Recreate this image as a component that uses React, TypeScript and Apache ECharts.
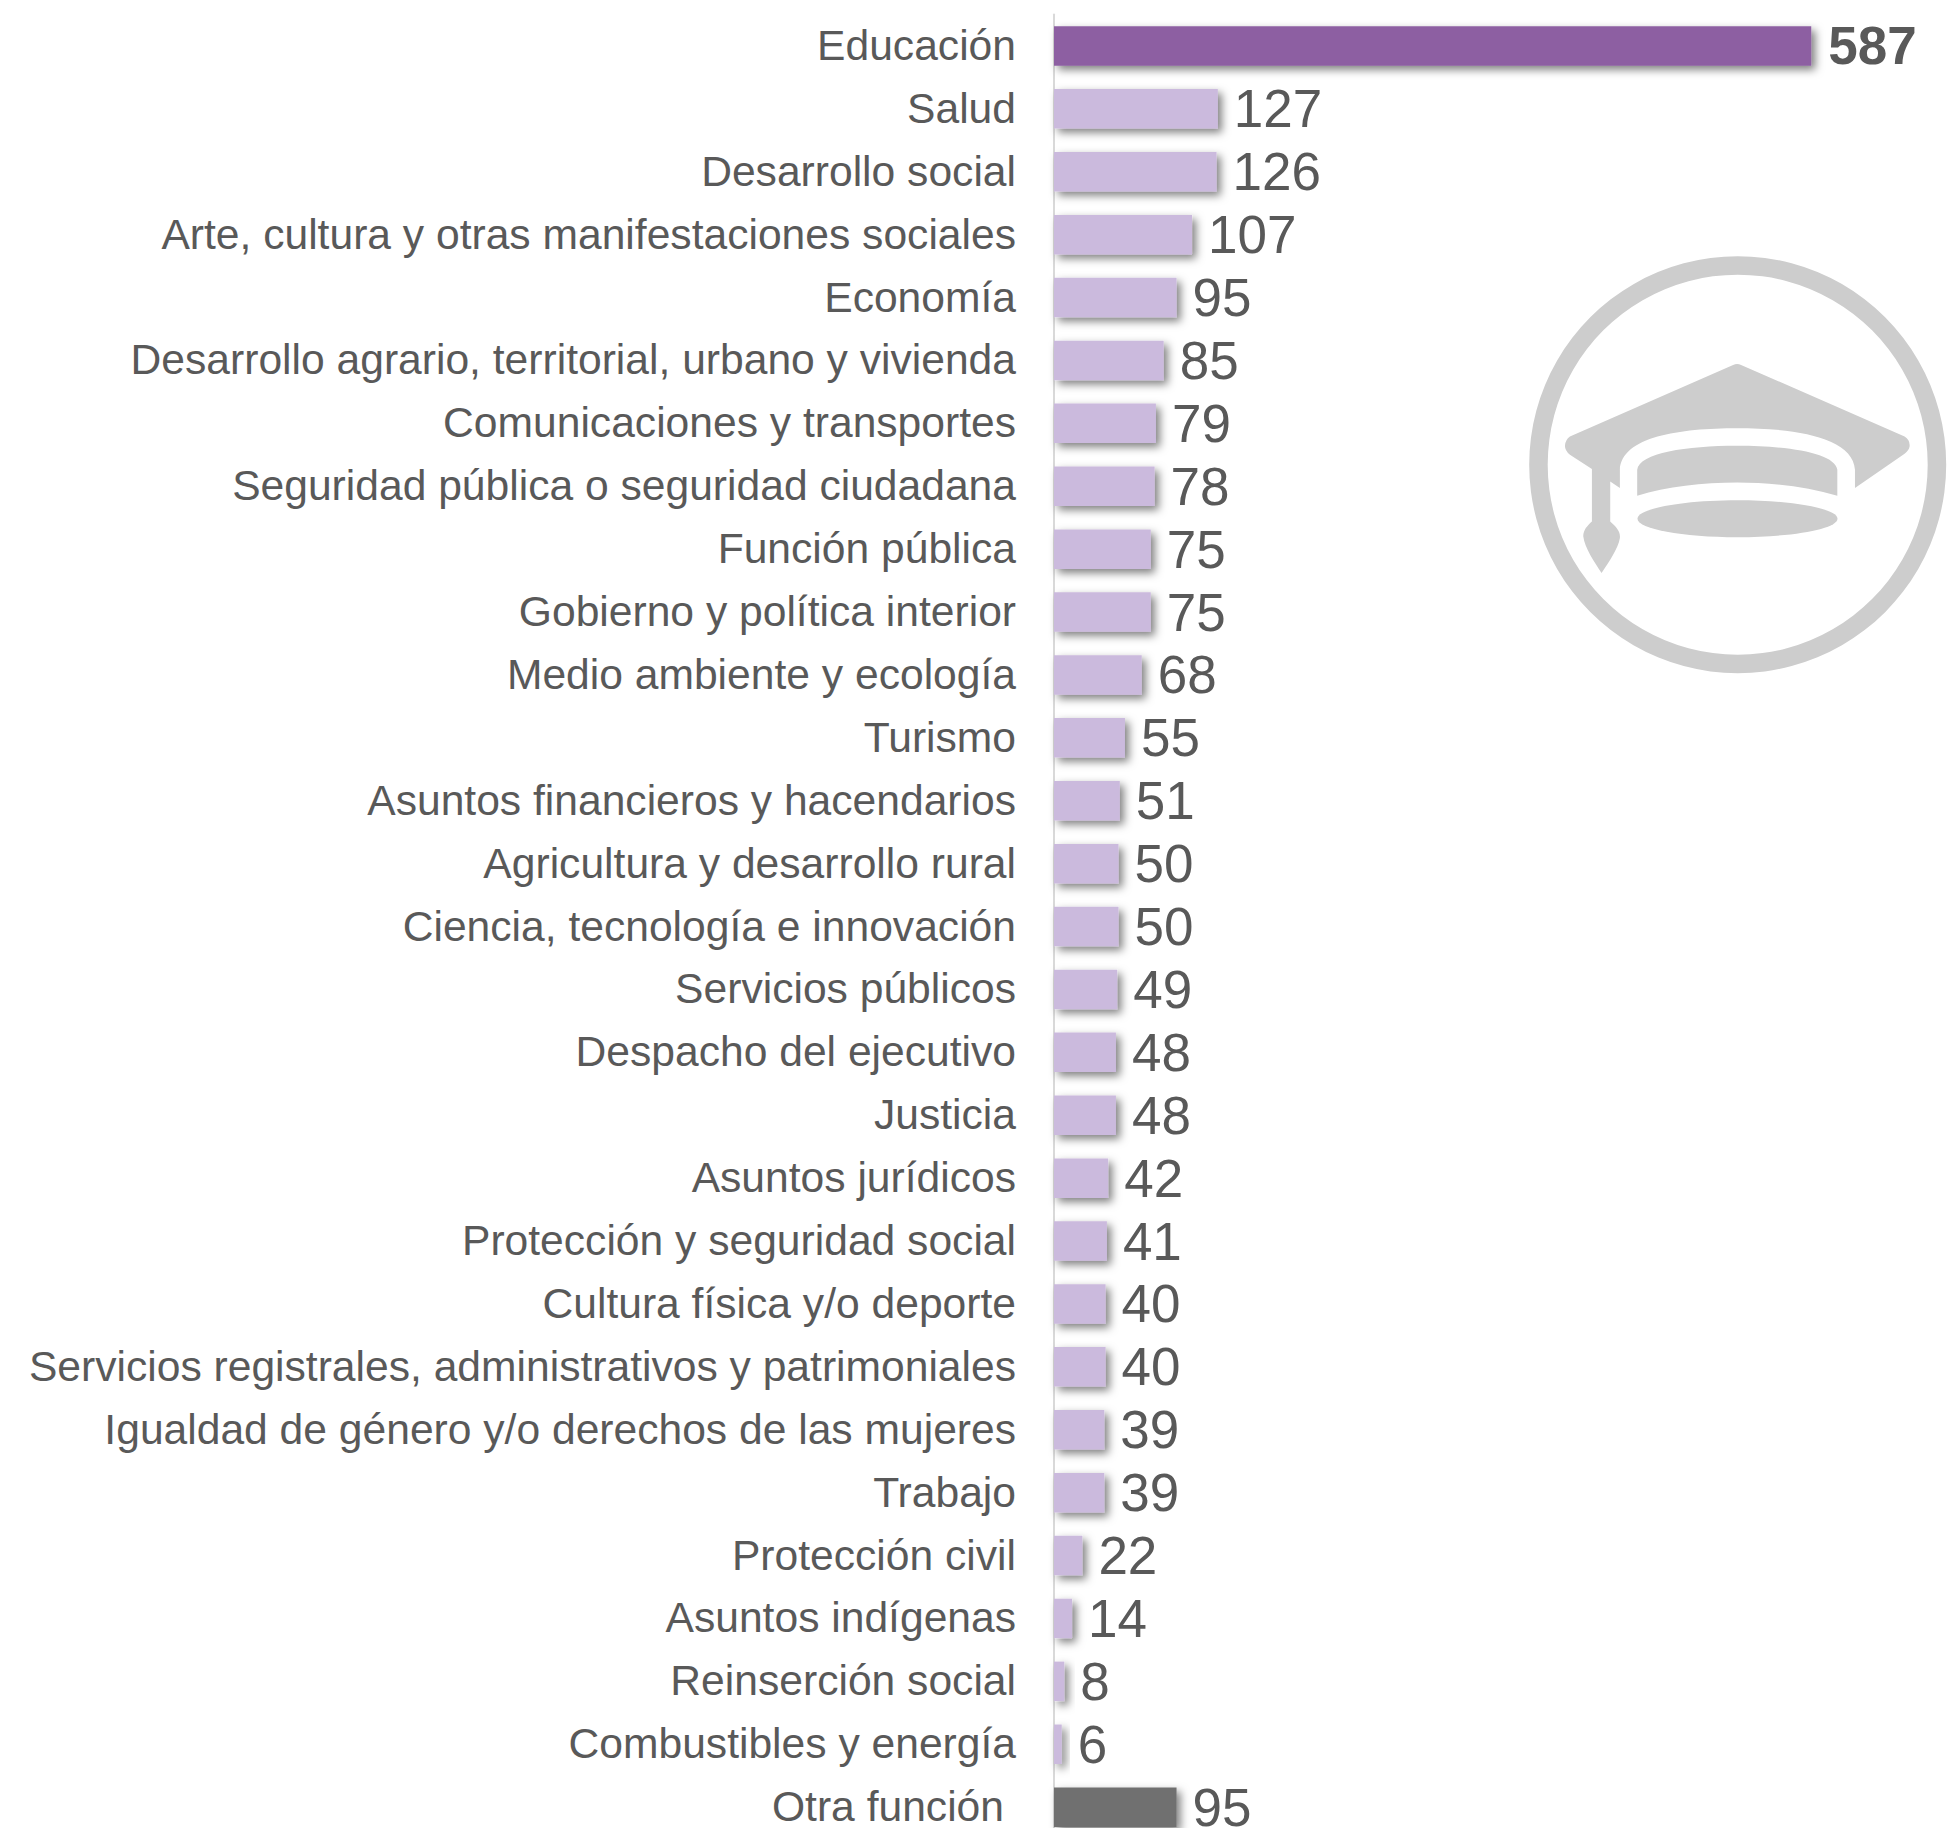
import React, { useEffect, useRef } from "react";
import * as echarts from "echarts";

const categories = [
  "Educación", "Salud", "Desarrollo social", "Arte, cultura y otras manifestaciones sociales", "Economía",
  "Desarrollo agrario, territorial, urbano y vivienda", "Comunicaciones y transportes", "Seguridad pública o seguridad ciudadana",
  "Función pública", "Gobierno y política interior", "Medio ambiente y ecología", "Turismo", "Asuntos financieros y hacendarios",
  "Agricultura y desarrollo rural", "Ciencia, tecnología e innovación", "Servicios públicos", "Despacho del ejecutivo", "Justicia",
  "Asuntos jurídicos", "Protección y seguridad social", "Cultura física y/o deporte", "Servicios registrales, administrativos y patrimoniales",
  "Igualdad de género y/o derechos de las mujeres", "Trabajo", "Protección civil", "Asuntos indígenas", "Reinserción social",
  "Combustibles y energía", "Otra función",
];
const values = [587, 127, 126, 107, 95, 85, 79, 78, 75, 75, 68, 55, 51, 50, 50, 49, 48, 48, 42, 41, 40, 40, 39, 39, 22, 14, 8, 6, 95];

const CAP_D = "M700 375 Q712 369 724 375 L1215 590 Q1232 600 1230 620 Q1228 632 1215 642 L1066 745 L1066 690 C1060 590 880 565 712 565 C540 565 365 590 360 690 L360 745 L331 725 L331 845 C350 862 362 875 360 895 C356 925 325 970 305 1000 C285 970 254 925 250 890 C250 870 262 858 276 845 L276 688 L210 645 Q195 633 195 618 Q196 600 210 590 Z";
const CROWN_D = "M412 768 L412 690 C418 640 560 618 712 618 C870 618 1006 640 1013 690 L1013 768 C920 740 810 728 712 728 C610 728 500 740 412 768 Z";

echarts.graphic.registerShape("capTop", echarts.graphic.extendPath(CAP_D, {}));
echarts.graphic.registerShape("capCrown", echarts.graphic.extendPath(CROWN_D, {}));

const LOGO_GREY = "#CDCDCD";

export default function App() {
  const ref = useRef<HTMLDivElement>(null);
  useEffect(() => {
    const chart = echarts.init(ref.current!, undefined, { renderer: "svg" });
    const last = values.length - 1;
    const font = "'Liberation Sans', Arial, sans-serif";
    const shape = (type: string) => ({
      type, x: 1500, y: 240, scaleX: 1 / 3, scaleY: 1 / 3, style: { fill: LOGO_GREY },
    });
    chart.setOption({
      animation: false,
      backgroundColor: "#ffffff",
      grid: { left: 1054, top: 14.5, width: 894, height: 1824.1, containLabel: false, outerBoundsMode: "none" },
      xAxis: { type: "value", min: 0, max: 693, show: false },
      yAxis: {
        type: "category",
        inverse: true,
        data: categories,
        axisTick: { show: false },
        axisLine: { lineStyle: { color: "#D9D9D9", width: 2 } },
        axisLabel: {
          margin: 38,
          fontFamily: font,
          fontSize: 42.6,
          color: "#595959",
          interval: 0,
          padding: [0, 0, 2, 0],
          formatter: (v: string) => (v === "Otra función" ? `{o|${v}}` : v),
          rich: { o: { fontFamily: font, fontSize: 42.6, color: "#595959", padding: [0, 12, 0, 0] } },
        },
      },
      series: [
        {
          type: "bar",
          barWidth: 39.5,
          data: values.map((v, i) => ({
            value: v,
            itemStyle: { color: i === 0 ? "#8D5FA2" : i === last ? "#6F6F6F" : "#CBBADD" },
            label: i === 0 ? { fontWeight: "bold", distance: 17 } : undefined,
          })),
          itemStyle: {
            shadowBlur: 8,
            shadowOffsetX: 4,
            shadowOffsetY: 4,
            shadowColor: "rgba(0,0,0,0.5)",
          },
          label: {
            show: true,
            position: "right",
            distance: 16,
            fontFamily: font,
            fontSize: 53,
            color: "#595959",
          },
        },
      ],
      graphic: [
        {
          type: "ring",
          shape: { cx: 1737.7, cy: 464.7, r: 208.5, r0: 190 },
          style: { fill: LOGO_GREY },
        },
        shape("capTop"),
        shape("capCrown"),
        {
          type: "ellipse",
          shape: { cx: 1737.5, cy: 518.7, rx: 100, ry: 18.5 },
          style: { fill: LOGO_GREY },
        },
      ],
    });
    return () => chart.dispose();
  }, []);
  return <div ref={ref} style={{ position: "absolute", left: 0, top: 0, width: 1948, height: 1828 }} />;
}
